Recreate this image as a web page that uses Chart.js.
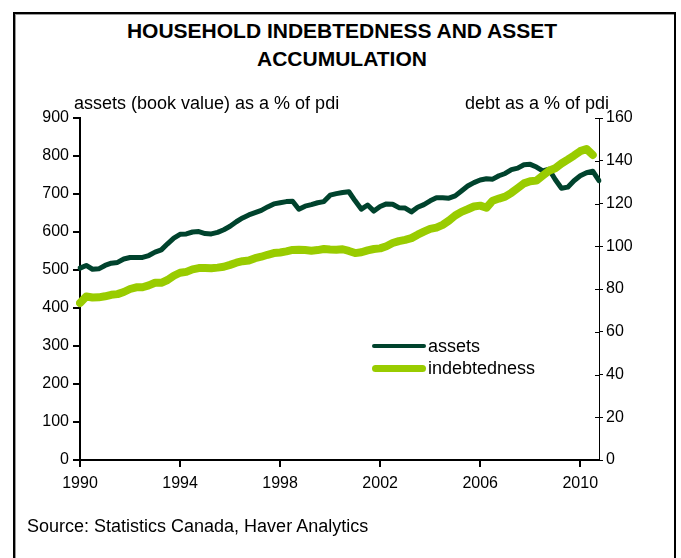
<!DOCTYPE html>
<html>
<head>
<meta charset="utf-8">
<title>Household indebtedness and asset accumulation</title>
<script src="https://cdn.jsdelivr.net/npm/chart.js@4/dist/chart.umd.min.js"></script>
<style>
  body { margin: 0; background: #fff; font-family: "Liberation Sans", Arial, sans-serif; color: #000; }
  #wrap { position: relative; width: 681px; height: 558px; overflow: hidden; }
  #frame { position: absolute; left: 13px; top: 12px; width: 659px; height: 600px;
           border: 2px solid #000; box-shadow: inset 1px 1px 0 #999; }
  #title { position: absolute; left: 0; top: 17px; width: 684px; text-align: center;
           font-weight: bold; font-size: 21px; line-height: 28px; }
  .axis-title { position: absolute; top: 93px; font-size: 18px; line-height: 21px; white-space: nowrap; }
  #left-title { left: 74px; }
  #right-title { right: 72px; }
  #legend { position: absolute; left: 372px; top: 335px; font-size: 18px; }
  .legend-row { display: flex; align-items: center; height: 22px; }
  .legend-line { width: 54px; border-radius: 4px; margin-right: 2px; }
  #source { position: absolute; left: 27px; top: 516px; font-size: 18px; line-height: 21px; }
  canvas { position: absolute; left: 0; top: 0; }
</style>
</head>
<body>
<div id="wrap">
  <div id="frame"></div>
  <div id="title">HOUSEHOLD INDEBTEDNESS AND ASSET<br>ACCUMULATION</div>
  <canvas id="chart" width="681" height="558"></canvas>
  <div class="axis-title" id="left-title">assets (book value) as a % of pdi</div>
  <div class="axis-title" id="right-title">debt as a % of pdi</div>
  <div id="legend"></div>
  <div id="source">Source: Statistics Canada, Haver Analytics</div>
</div>
<script>
// Quarterly series, 1990Q1 onwards
const startYear = 1990;
const xTickYears = [1990, 1994, 1998, 2002, 2006, 2010];

// assets (book value) as a % of personal disposable income, left axis
const assets = [
  505, 512, 502, 503, 512, 518, 520, 529, 533, 533, 533, 538, 547, 553, 569, 584,
  594, 595, 600, 601, 596, 595, 599, 606, 615, 627, 637, 645, 651, 657, 666, 674,
  677, 680, 681, 660, 668, 672, 677, 680, 697, 701, 704, 706, 682, 660, 671, 655,
  667, 674, 673, 664, 663, 653, 665, 672, 682, 690, 690, 689, 695, 708, 721, 730,
  737, 740, 739, 748, 754, 764, 768, 777, 778, 771, 761, 765, 738, 715, 718, 735,
  748, 756, 760, 735
];

// debt as a % of personal disposable income, right axis
const indebtedness = [
  73.4, 76.5, 76.0, 76.1, 76.6, 77.3, 77.6, 78.6, 80.0, 80.8, 80.8, 81.7, 82.9, 82.9, 84.2, 86.2,
  87.6, 88.0, 89.2, 89.8, 89.8, 89.7, 90.0, 90.4, 91.3, 92.3, 93.0, 93.3, 94.4, 95.1, 96.0, 96.8,
  97.1, 97.6, 98.3, 98.4, 98.2, 97.9, 98.2, 98.7, 98.5, 98.4, 98.6, 97.8, 96.8, 97.2, 98.1, 98.7,
  99.0, 100.0, 101.5, 102.4, 103.0, 103.8, 105.4, 106.8, 108.1, 108.7, 110.0, 112.0, 114.4, 116.1,
  117.3, 118.6, 119.0, 118.0, 121.3, 122.3, 123.2, 125.0, 127.2, 129.4, 130.4, 130.7, 133.0, 135.3,
  136.5, 138.7, 140.5, 142.4, 144.5, 145.5, 142.7
];

const seriesNames = ['assets', 'indebtedness'];
const seriesColors = ['#00432d', '#99cc00'];
const seriesWidths = [5, 8];

const quarters = assets.map((_, i) => `${startYear + Math.floor(i / 4)}Q${i % 4 + 1}`);

// Only the first quarter of the labelled years gets a tick
function yearLabel(i) {
  const q = quarters[i];
  const year = parseInt(q.slice(0, 4), 10);
  return (q.endsWith('Q1') && xTickYears.includes(year)) ? String(year) : '';
}

// Legend drawn as html
const legend = document.getElementById('legend');
seriesNames.forEach((name, i) => {
  const row = document.createElement('div');
  row.className = 'legend-row';
  row.innerHTML = `<span class="legend-line" style="height:${seriesWidths[i] - 1}px;background:${seriesColors[i]}"></span>${name}`;
  legend.appendChild(row);
});

// Right axis ticks cross the axis line, so draw the inner half too
const innerTicks = {
  id: 'innerTicks',
  afterDraw(chart) {
    const scale = chart.scales.y1;
    const ctx = chart.ctx;
    ctx.save();
    ctx.strokeStyle = '#000';
    ctx.lineWidth = 1;
    scale.ticks.forEach(t => {
      const y = Math.round(scale.getPixelForValue(t.value)) + 0.5;
      ctx.beginPath();
      ctx.moveTo(scale.left - 4, y);
      ctx.lineTo(scale.left, y);
      ctx.stroke();
    });
    ctx.restore();
  }
};

Chart.defaults.font.family = '"Liberation Sans", Arial, sans-serif';
Chart.defaults.font.size = 16;
Chart.defaults.color = '#000';

new Chart(document.getElementById('chart'), {
  type: 'line',
  data: {
    labels: quarters,
    datasets: [{
      label: seriesNames[0],
      data: assets,
      yAxisID: 'y',
      borderColor: seriesColors[0],
      borderWidth: seriesWidths[0],
      order: 1
    }, {
      label: seriesNames[1],
      data: indebtedness,
      yAxisID: 'y1',
      borderColor: seriesColors[1],
      borderWidth: seriesWidths[1],
      order: 0
    }]
  },
  options: {
    responsive: false,
    animation: false,
    layout: { padding: { top: 118, left: 0, right: 0, bottom: 0 } },
    elements: {
      point: { radius: 0 },
      line: { tension: 0, borderJoinStyle: 'round', borderCapStyle: 'round' }
    },
    plugins: {
      legend: { display: false },
      tooltip: { enabled: false }
    },
    scales: {
      x: {
        type: 'category',
        offset: false,
        afterFit: s => { s.height = 98; },
        border: { color: '#000', width: 2 },
        grid: {
          drawOnChartArea: false,
          tickLength: 7,
          lineWidth: 2,
          color: c => yearLabel(c.index) ? '#000' : 'rgba(0,0,0,0)'
        },
        ticks: {
          autoSkip: false,
          maxRotation: 0,
          padding: 7,
          callback: (val, i) => yearLabel(i)
        }
      },
      y: {
        position: 'left',
        min: 0,
        max: 900,
        afterFit: s => { s.width = 80; },
        border: { color: '#000', width: 2 },
        grid: { drawOnChartArea: false, tickLength: 7, lineWidth: 2, color: '#000' },
        ticks: { stepSize: 100, padding: 4 }
      },
      y1: {
        position: 'right',
        min: 0,
        max: 160,
        afterFit: s => { s.width = 82; },
        border: { color: '#000', width: 1 },
        grid: { drawOnChartArea: false, tickLength: 4, lineWidth: 1, color: '#000' },
        ticks: { stepSize: 20, padding: 3 }
      }
    }
  },
  plugins: [innerTicks]
});
</script>
</body>
</html>
